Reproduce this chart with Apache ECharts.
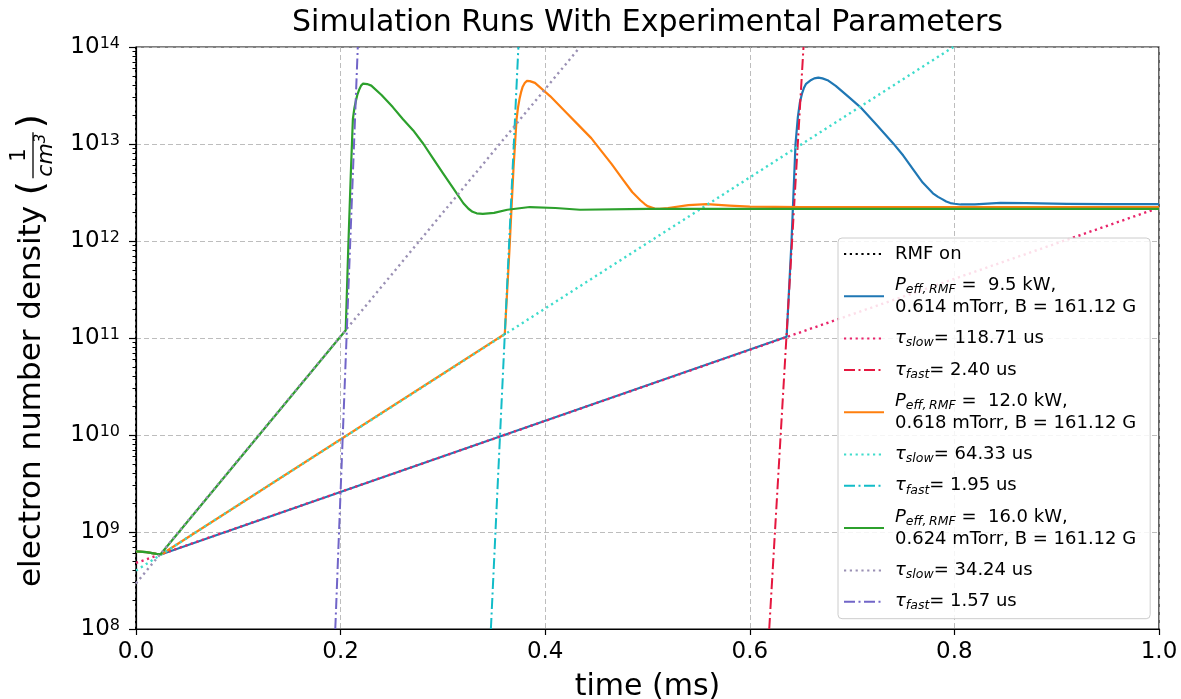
<!DOCTYPE html>
<html><head><meta charset="utf-8">
<script src="https://cdn.jsdelivr.net/npm/echarts@6/dist/echarts.min.js"></script>
<style>html,body{margin:0;padding:0;background:#fff}#c{width:1181px;height:699px}</style>
</head><body><div id="c"></div>
<script>
const FONT = 'DejaVu Sans';
const titleText = 'Simulation Runs With Experimental Parameters';
const xName = 'time (ms)';
const yNameMain = 'electron number density';
const xTickVals = [0.0, 0.2, 0.4, 0.6, 0.8, 1.0];
const yTickExps = [8, 9, 10, 11, 12, 13, 14];

// simulation curves (time in ms, density in 1/cm^3)
const tBlue = [0, 0.01, 0.02, 0.025, 0.636, 0.6408, 0.6447, 0.647, 0.649, 0.651, 0.653, 0.655, 0.660, 0.663, 0.667, 0.671, 0.676, 0.684, 0.696, 0.708, 0.723, 0.740, 0.750, 0.760, 0.769, 0.779, 0.784, 0.788, 0.792, 0.796, 0.800, 0.806, 0.82, 0.845, 0.87, 0.91, 0.95, 1.0];
const nBlue = [6.3e8, 6.2e8, 5.95e8, 5.9e8, 1.03e11, 1.0e12, 1.0e13, 1.9e13, 2.7e13, 3.3e13, 3.8e13, 4.17e13, 4.57e13, 4.75e13, 4.83e13, 4.75e13, 4.55e13, 3.98e13, 3.1e13, 2.4e13, 1.62e13, 1.02e13, 7.6e12, 5.4e12, 4.0e12, 3.1e12, 2.85e12, 2.7e12, 2.55e12, 2.46e12, 2.42e12, 2.38e12, 2.38e12, 2.47e12, 2.46e12, 2.41e12, 2.4e12, 2.4e12];

const tOrange = [0, 0.01, 0.02, 0.025, 0.3605, 0.365, 0.369, 0.372, 0.3735, 0.375, 0.3765, 0.378, 0.380, 0.382, 0.385, 0.39, 0.405, 0.42, 0.434, 0.445, 0.454, 0.465, 0.476, 0.485, 0.493, 0.497, 0.50, 0.507, 0.512, 0.52, 0.54, 0.558, 0.58, 0.60, 0.65, 0.8, 1.0];
const nOrange = [6.3e8, 6.2e8, 5.95e8, 5.9e8, 1.1e11, 7.9e11, 5.6e12, 1.8e13, 2.4e13, 2.95e13, 3.45e13, 3.9e13, 4.25e13, 4.47e13, 4.45e13, 4.27e13, 3.1e13, 2.14e13, 1.51e13, 1.15e13, 8.7e12, 6.2e12, 4.3e12, 3.2e12, 2.63e12, 2.42e12, 2.29e12, 2.16e12, 2.15e12, 2.19e12, 2.34e12, 2.4e12, 2.32e12, 2.26e12, 2.24e12, 2.24e12, 2.24e12];

const tGreen = [0, 0.01, 0.02, 0.024, 0.205, 0.2075, 0.210, 0.212, 0.2135, 0.215, 0.2165, 0.218, 0.220, 0.222, 0.226, 0.23, 0.24, 0.251, 0.261, 0.271, 0.281, 0.29, 0.30, 0.31, 0.32, 0.325, 0.329, 0.333, 0.339, 0.35, 0.363, 0.385, 0.41, 0.434, 0.5, 0.7, 1.0];
const nGreen = [6.3e8, 6.2e8, 5.95e8, 5.9e8, 1.2e11, 8.5e11, 5.0e12, 1.8e13, 2.35e13, 2.8e13, 3.25e13, 3.6e13, 4.0e13, 4.2e13, 4.15e13, 4.0e13, 3.2e13, 2.4e13, 1.8e13, 1.38e13, 1.0e13, 7.2e12, 5.0e12, 3.5e12, 2.45e12, 2.15e12, 2.0e12, 1.93e12, 1.9e12, 1.95e12, 2.1e12, 2.24e12, 2.19e12, 2.1e12, 2.14e12, 2.14e12, 2.14e12];

// exponential fits (straight on log axis: two end points each)
const tSlowBlue = [0, 1.0],      nSlowBlue = [4.8e8, 2.2e12];
const tFastBlue = [0.619, 0.6525], nFastBlue = [1e8, 1e14];
const tSlowOrange = [0, 0.799],  nSlowOrange = [4.0e8, 1e14];
const tFastOrange = [0.3469, 0.3738], nFastOrange = [1e8, 1e14];
const tSlowGreen = [0, 0.434],   nSlowGreen = [2.95e8, 1e14];
const tFastGreen = [0.1948, 0.2168], nFastGreen = [1e8, 1e14];
const tRmf = [0, 0], nRmf = [1e8, 1e14];

const legendLabels = {
  rmf: '{n|RMF on}',
  p95: '{i|P}{sub|eff,\u2009RMF}{n| =  9.5 kW,}\n{n|0.614 mTorr, B = 161.12 G}',
  s95: '{t|\u03c4}{sub|slow}{n|= 118.71 us}',
  f95: '{t|\u03c4}{sub|fast}{n|= 2.40 us}',
  p12: '{i|P}{sub|eff,\u2009RMF}{n| =  12.0 kW,}\n{n|0.618 mTorr, B = 161.12 G}',
  s12: '{t|\u03c4}{sub|slow}{n|= 64.33 us}',
  f12: '{t|\u03c4}{sub|fast}{n|= 1.95 us}',
  p16: '{i|P}{sub|eff,\u2009RMF}{n| =  16.0 kW,}\n{n|0.624 mTorr, B = 161.12 G}',
  s16: '{t|\u03c4}{sub|slow}{n|= 34.24 us}',
  f16: '{t|\u03c4}{sub|fast}{n|= 1.57 us}'
};

const zip = (t, n) => t.map((v, i) => [v, n[i]]);
const DOT = [2.2, 3.6];
const DASHDOT = [11, 3.5, 2, 3.5];
function mk(name, t, n, color, width, type) {
  return {
    name, type: 'line', data: zip(t, n), showSymbol: false, symbol: 'none',
    clip: true, silent: true,
    lineStyle: { color, width, type, cap: 'butt', join: 'round' },
    itemStyle: { color },
    emphasis: { disabled: true }
  };
}

const series = [
  mk('rmf', tRmf, nRmf, '#000000', 2, DOT),
  mk('p95', tBlue, nBlue, '#1f77b4', 2.2, 'solid'),
  mk('s95', tSlowBlue, nSlowBlue, '#e8246a', 2.4, DOT),
  mk('f95', tFastBlue, nFastBlue, '#e5173f', 2, DASHDOT),
  mk('p12', tOrange, nOrange, '#ff7f0e', 2.2, 'solid'),
  mk('s12', tSlowOrange, nSlowOrange, '#3fdccc', 2.4, DOT),
  mk('f12', tFastOrange, nFastOrange, '#12bcc8', 2, DASHDOT),
  mk('p16', tGreen, nGreen, '#2ca02c', 2.2, 'solid'),
  mk('s16', tSlowGreen, nSlowGreen, '#9a90b4', 2.4, DOT),
  mk('f16', tFastGreen, nFastGreen, '#7165c8', 2, DASHDOT)
];

// minor tick positions (in decades) for the log axis
const minorTickPos = [];
for (let e = yTickExps[0]; e < yTickExps[yTickExps.length - 1]; e++) {
  for (let m = 2; m <= 9; m++) minorTickPos.push(Math.log10(m * Math.pow(10, e)));
}

// y-axis title with fraction (rotated group)
const cvs = document.createElement('canvas').getContext('2d');
const YFS = 31;
cvs.font = YFS + 'px "' + FONT + '"';
const wMain = cvs.measureText(yNameMain + ' ').width;
const parenL = wMain + 1;
const fracX = parenL + 17;
const fracW = 46;
const parenR = fracX + fracW + 4;

const chart = echarts.init(document.getElementById('c'), null, { renderer: 'canvas' });
chart.setOption({
  animation: false,
  backgroundColor: '#ffffff',
  grid: { left: 136, right: 22, top: 47, bottom: 70, show: true, borderColor: '#000', borderWidth: 1.2, backgroundColor: 'transparent', outerBoundsMode: 'none', containLabel: false },
  xAxis: {
    type: 'value', min: 0, max: 1, interval: 0.2,
    name: xName, nameLocation: 'middle', nameGap: 43,
    nameTextStyle: { fontFamily: FONT, fontSize: 30, color: '#000' },
    axisLine: { show: true, onZero: false, lineStyle: { color: '#000', width: 1.2 } },
    axisTick: { show: true, length: 6, lineStyle: { color: '#000', width: 1.2 } },
    axisLabel: { fontFamily: FONT, fontSize: 23, color: '#000', margin: 12, formatter: v => v.toFixed(1) },
    splitLine: { show: true, lineStyle: { color: '#b5b5b5', width: 0.9, type: [5, 3] } }
  },
  yAxis: [{
    type: 'log', logBase: 10, min: 1e8, max: 1e14, splitNumber: 6,
    axisLine: { show: true, lineStyle: { color: '#000', width: 1.2 } },
    axisTick: { show: true, length: 7, lineStyle: { color: '#000', width: 1.2 } },
    axisLabel: {
      margin: 16, color: '#000',
      formatter: v => '{b|10}{s|' + Math.round(Math.log10(v)) + '}',
      rich: {
        b: { fontFamily: FONT, fontSize: 23, lineHeight: 26, color: '#000' },
        s: { fontFamily: FONT, fontSize: 16, lineHeight: 16, verticalAlign: 'top', padding: [2, 0, 0, 0], color: '#000' }
      }
    },
    splitLine: { show: true, lineStyle: { color: '#b5b5b5', width: 0.9, type: [5, 3] } }
  }, {
    type: 'value', min: yTickExps[0], max: yTickExps[yTickExps.length - 1], position: 'left',
    axisLine: { show: false },
    axisLabel: { show: false },
    splitLine: { show: false },
    axisTick: { show: true, length: 3.5, customValues: minorTickPos, lineStyle: { color: '#000', width: 1 } }
  }],
  legend: {
    orient: 'vertical', left: 838, top: 238,
    padding: [5, 14, 6, 5], itemGap: 9.3, itemWidth: 40, itemHeight: 14,
    backgroundColor: 'rgba(255,255,255,0.85)', borderColor: '#cccccc', borderWidth: 1, borderRadius: 4,
    selectedMode: false,
    itemStyle: { opacity: 0, borderWidth: 0 },
    data: series.map(s => s.name),
    formatter: name => legendLabels[name],
    textStyle: {
      fontFamily: FONT, fontSize: 18, color: '#000', lineHeight: 22, padding: [0, 0, 0, 6],
      rich: {
        n: { fontFamily: FONT, fontSize: 18, lineHeight: 22, color: '#000' },
        i: { fontFamily: FONT, fontSize: 18, lineHeight: 22, fontStyle: 'italic', color: '#000' },
        t: { fontFamily: FONT, fontSize: 18, lineHeight: 22, fontStyle: 'italic', color: '#000' },
        sub: { fontFamily: FONT, fontSize: 12.5, lineHeight: 12, fontStyle: 'italic', verticalAlign: 'bottom', color: '#000' }
      }
    }
  },
  graphic: [
    { type: 'text', x: 647.5, y: 23, silent: true,
      style: { text: titleText, fontFamily: FONT, fontSize: 30, fill: '#000', align: 'center', verticalAlign: 'middle' } },
    { type: 'group', x: 32, y: 587, rotation: Math.PI / 2, silent: true, children: [
      { type: 'text', x: 0, y: 0, style: { text: yNameMain, fontFamily: FONT, fontSize: YFS, fill: '#000', align: 'left', verticalAlign: 'middle' } },
      { type: 'text', x: parenL, y: 1, style: { text: '(', fontFamily: FONT, fontSize: 36, fill: '#000', align: 'left', verticalAlign: 'middle' } },
      { type: 'text', x: fracX + fracW / 2, y: -12, style: { text: '1', fontFamily: FONT, fontSize: 21, fill: '#000', align: 'center', verticalAlign: 'middle' } },
      { type: 'line', shape: { x1: fracX, y1: 1, x2: fracX + fracW, y2: 1 }, style: { stroke: '#000', lineWidth: 1.3 } },
      { type: 'text', x: fracX + fracW / 2, y: 14, style: { text: '{c|cm}{e|3}', fontFamily: FONT, align: 'center', verticalAlign: 'middle',
          rich: { c: { fontFamily: FONT, fontSize: 22, fontStyle: 'italic', fill: '#000', lineHeight: 24 },
                  e: { fontFamily: FONT, fontSize: 15, fontStyle: 'italic', fill: '#000', verticalAlign: 'top', lineHeight: 15 } } } },
      { type: 'text', x: parenR, y: 1, style: { text: ')', fontFamily: FONT, fontSize: 36, fill: '#000', align: 'left', verticalAlign: 'middle' } }
    ]}
  ],
  series
});
</script>
</body></html>
